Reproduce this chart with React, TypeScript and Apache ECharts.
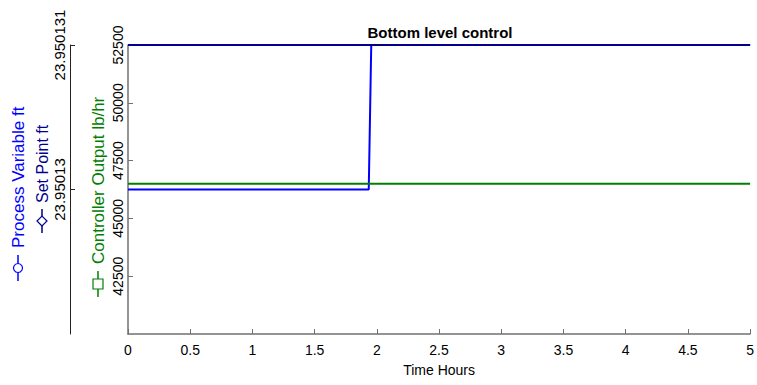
import React, { useEffect, useRef } from "react";
import * as echarts from "echarts";

const FONT = "'Liberation Sans', Arial, Helvetica, sans-serif";

// Time (hours)
const pvTime = [0, 1.935, 1.955, 5];
const pvValues = [23.95013, 23.95013, 23.950131, 23.950131];
const spTime = [0, 5];
const spValues = [23.950131, 23.950131];
const coTime = [0, 5];
const coValues = [46500, 46500];

const xTicks = { min: 0, max: 5, interval: 0.5 };
const pvAxisRange = { min: 23.950129, max: 23.950131, interval: 0.000001 };
const coAxisRange = { min: 40000, max: 52500, interval: 2500 };

const titleText = "Bottom level control";
const xAxisName = "Time Hours";
const legendNames = ["Process Variable ft", "Set Point ft", "Controller Output lb/hr"];
const colors = { pv: "#0000ff", sp: "#00008b", co: "#008000" };

function zip(xs: number[], ys: number[]) {
  return xs.map((x, i) => [x, ys[i]]);
}

function legendItem(
  cx: number,
  cy: number,
  half: number,
  gap: number,
  text: string,
  color: string,
  marker: any,
  fontSize: number
) {
  return {
    type: "group",
    x: cx,
    y: cy,
    rotation: Math.PI / 2,
    children: [
      {
        type: "line",
        shape: { x1: -half, y1: 0, x2: half, y2: 0 },
        style: { stroke: color, lineWidth: 1.5 },
      },
      marker,
      {
        type: "text",
        x: half + gap,
        y: 0,
        style: {
          text,
          fill: color,
          font: `${fontSize}px ${FONT}`,
          align: "left",
          verticalAlign: "middle",
        },
      },
    ],
  };
}

export default function App() {
  const ref = useRef<HTMLDivElement>(null);
  useEffect(() => {
    if (!ref.current) return;
    const chart = echarts.init(ref.current, undefined, { renderer: "svg" });
    const fmtPv = (v: number) => String(parseFloat(v.toFixed(6)));
    const fmtCo = (v: number) => String(Math.round(v));
    chart.setOption({
      animation: false,
      backgroundColor: "#ffffff",
      textStyle: { fontFamily: FONT },
      grid: { left: 128, right: 6, top: 45, bottom: 51, containLabel: false },
      xAxis: {
        type: "value",
        min: xTicks.min,
        max: xTicks.max,
        interval: xTicks.interval,
        name: xAxisName,
        nameLocation: "middle",
        nameGap: 29,
        nameTextStyle: { color: "#000", fontSize: 14, fontFamily: FONT },
        axisLine: { show: true, lineStyle: { color: "#707070", width: 1.5 } },
        axisTick: { show: true, inside: true, length: 5, lineStyle: { color: "#707070" } },
        axisLabel: { color: "#000", fontSize: 14, margin: 9, fontFamily: FONT },
        splitLine: { show: false },
      },
      yAxis: [
        {
          type: "value",
          position: "left",
          offset: 58,
          min: pvAxisRange.min,
          max: pvAxisRange.max,
          interval: pvAxisRange.interval,
          axisLine: { show: true, onZero: false, lineStyle: { color: "#222", width: 1 } },
          axisTick: { show: true, inside: true, length: 5, lineStyle: { color: "#222" } },
          axisLabel: {
            color: "#000",
            fontSize: 15,
            rotate: 90,
            margin: 3,
            showMinLabel: false,
            formatter: fmtPv,
            fontFamily: FONT,
          },
          splitLine: { show: false },
        },
        {
          type: "value",
          position: "left",
          offset: 0,
          min: coAxisRange.min,
          max: coAxisRange.max,
          interval: coAxisRange.interval,
          axisLine: { show: true, onZero: false, lineStyle: { color: "#707070", width: 1.5 } },
          axisTick: { show: true, inside: true, length: 5, lineStyle: { color: "#707070" } },
          axisLabel: {
            color: "#000",
            fontSize: 14,
            rotate: 90,
            margin: 3,
            showMinLabel: false,
            formatter: fmtCo,
            fontFamily: FONT,
          },
          splitLine: { show: false },
        },
      ],
      series: [
        {
          name: legendNames[0],
          type: "line",
          yAxisIndex: 0,
          data: zip(pvTime, pvValues),
          showSymbol: false,
          lineStyle: { color: colors.pv, width: 2 },
          itemStyle: { color: colors.pv },
          z: 2,
        },
        {
          name: legendNames[2],
          type: "line",
          yAxisIndex: 1,
          data: zip(coTime, coValues),
          showSymbol: false,
          lineStyle: { color: colors.co, width: 2 },
          itemStyle: { color: colors.co },
          z: 3,
        },
        {
          name: legendNames[1],
          type: "line",
          yAxisIndex: 0,
          data: zip(spTime, spValues),
          showSymbol: false,
          lineStyle: { color: colors.sp, width: 2 },
          itemStyle: { color: colors.sp },
          z: 4,
        },
      ],
      graphic: [
        {
          type: "text",
          x: 440,
          y: 32,
          style: {
            text: titleText,
            fill: "#000",
            font: `bold 15px ${FONT}`,
            align: "center",
            verticalAlign: "middle",
          },
        },
        legendItem(18, 268, 13, 7, legendNames[0], colors.pv, {
          type: "circle",
          shape: { cx: 0, cy: 0, r: 4.5 },
          style: { fill: "#fff", stroke: colors.pv, lineWidth: 1.2 },
        }, 17),
        legendItem(42, 221, 12, 6, legendNames[1], colors.sp, {
          type: "polygon",
          shape: { points: [[-5, 0], [0, -5], [5, 0], [0, 5]] },
          style: { fill: "#fff", stroke: colors.sp, lineWidth: 1.2 },
        }, 16),
        legendItem(98, 284, 13, 7, legendNames[2], colors.co, {
          type: "rect",
          shape: { x: -5, y: -5, width: 10, height: 10 },
          style: { fill: "#fff", stroke: colors.co, lineWidth: 1.2 },
        }, 17),
      ],
    });
    return () => chart.dispose();
  }, []);
  return (
    <div
      ref={ref}
      style={{ position: "absolute", left: 0, top: 0, width: 757, height: 385 }}
    />
  );
}
